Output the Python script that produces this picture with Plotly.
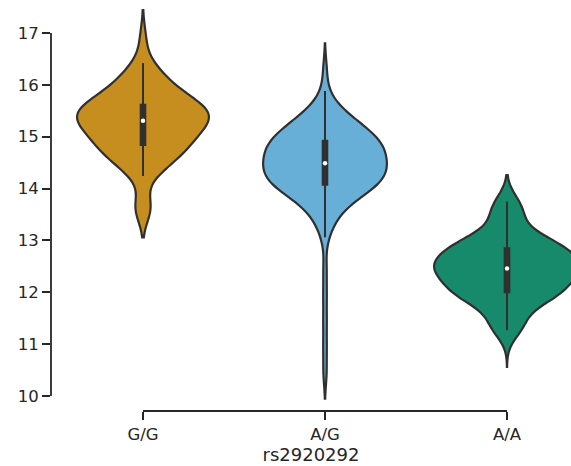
import numpy as np
import plotly.graph_objects as go

# ---------------- data ----------------
categories = ["G/G", "A/G", "A/A"]

gg_values = [
    13.60, 13.62, 13.65,
    14.24, 14.33, 14.41, 14.47, 14.53, 14.58, 14.62, 14.66, 14.70, 14.73, 14.76, 14.79, 14.82,
    14.86, 14.90, 14.93, 14.96, 14.99, 15.02, 15.05, 15.08, 15.11, 15.14, 15.17, 15.20, 15.23,
    15.26, 15.29, 15.30,
    15.32, 15.34, 15.36, 15.38, 15.40, 15.42, 15.44, 15.46, 15.48, 15.50, 15.52, 15.54, 15.56,
    15.57, 15.59, 15.60,
    15.63, 15.67, 15.71, 15.75, 15.79, 15.83, 15.87, 15.92, 15.97, 16.02, 16.08, 16.14, 16.22,
    16.31, 16.42,
    16.90,
]

ag_values = [
    10.45, 10.95, 11.45, 11.95, 12.45,
    13.06, 13.22, 13.34, 13.43, 13.50, 13.56, 13.61, 13.66, 13.70, 13.74, 13.77, 13.80,
    13.83, 13.86, 13.88, 13.90, 13.92, 13.94, 13.96, 13.98, 14.00, 14.02, 14.04, 14.06,
    14.07, 14.08, 14.09, 14.11, 14.12, 14.14, 14.15, 14.16, 14.18, 14.19, 14.21, 14.22, 14.23,
    14.25, 14.26, 14.28, 14.29, 14.30, 14.32, 14.33, 14.35, 14.36, 14.37, 14.39, 14.40,
    14.42, 14.43, 14.44, 14.46, 14.47, 14.48,
    14.50, 14.51, 14.53, 14.54, 14.56, 14.57, 14.59, 14.60, 14.62, 14.63, 14.65, 14.66,
    14.68, 14.69, 14.71, 14.72, 14.74, 14.75, 14.77, 14.78, 14.80, 14.81, 14.83, 14.84,
    14.86, 14.87, 14.88, 14.89, 14.90, 14.91,
    14.93, 14.95, 14.96, 14.98, 15.00, 15.01, 15.03, 15.05, 15.07, 15.09,
    15.11, 15.13, 15.15, 15.17, 15.19, 15.21, 15.23, 15.26, 15.29, 15.31,
    15.34, 15.37, 15.40, 15.44, 15.48, 15.53,
    15.60, 15.70, 15.88,
    16.30,
]

aa_values = [
    11.27, 11.40, 11.62, 11.85, 11.91, 11.95, 11.98, 12.00,
    12.10, 12.18, 12.25, 12.31, 12.36, 12.41, 12.44, 12.48, 12.52, 12.56, 12.61, 12.66,
    12.72, 12.79, 12.85,
    12.90, 12.95, 13.00, 13.06, 13.35, 13.55, 13.75,
]

y_ticks = [10, 11, 12, 13, 14, 15, 16, 17]
x_title = "rs2920292"

# ---------------- styling ----------------
fill_colors = ["#C68D1F", "#68AFD7", "#168A6A"]
violin_widths = [0.725, 0.68, 0.80]
bandwidths = [0.27, 0.25, 0.24]
box_widths = [0.035, 0.037, 0.032]
# density evaluation span: soft (data +/- 2 bandwidths) except where the
# reference outline ends elsewhere
span_settings = [None, None, [10.56, 14.26]]
OUTLINE = "#303030"
TEXT = "#262626"
FONT = "DejaVu Sans"

groups = [gg_values, ag_values, aa_values]

fig = go.Figure()
for cat, vals, col, w, bw, bxw, sp in zip(categories, groups, fill_colors,
                                           violin_widths, bandwidths, box_widths,
                                           span_settings):
    span_kw = dict(spanmode="soft") if sp is None else dict(spanmode="manual", span=sp)
    fig.add_trace(go.Violin(
        x0=cat, y=vals, name=cat,
        fillcolor=col, opacity=1,
        line=dict(color=OUTLINE, width=2.2),
        width=w, scalemode="width", bandwidth=bw,
        points=False,
        box=dict(visible=True, width=bxw, fillcolor=OUTLINE,
                 line=dict(color=OUTLINE, width=2)),
        meanline=dict(visible=False),
        hoverinfo="skip",
        **span_kw,
    ))

medians = [float(np.median(v)) for v in groups]
fig.add_trace(go.Scatter(
    x=categories, y=medians, mode="markers",
    marker=dict(color="white", size=4.5, line=dict(width=0)),
    hoverinfo="skip", showlegend=False,
))

# trimmed spines (seaborn despine(trim=True) look)
fig.add_shape(type="line", xref="paper", yref="y", x0=0, x1=0,
              y0=y_ticks[0], y1=y_ticks[-1], line=dict(color=TEXT, width=1.8))
fig.add_shape(type="line", xref="x", yref="paper", x0=0, x1=len(categories) - 1,
              y0=0, y1=0, line=dict(color=TEXT, width=1.8))

fig.update_layout(
    width=571, height=466,
    margin=dict(l=51, r=0, t=0, b=55),
    paper_bgcolor="white", plot_bgcolor="white",
    showlegend=False, violinmode="overlay",
    font=dict(family=FONT, color=TEXT),
)
fig.update_xaxes(
    type="category", categoryorder="array", categoryarray=categories,
    range=[-0.5055, 2.3516], showgrid=False, zeroline=False, showline=False,
    ticks="outside", ticklen=8, tickwidth=1.8, tickcolor=TEXT,
    tickfont=dict(size=16.5, family=FONT, color=TEXT),
    title=dict(text=x_title, font=dict(size=18, family=FONT, color=TEXT), standoff=2),
    automargin=False,
)
fig.update_yaxes(
    range=[9.711, 17.636], tickvals=y_ticks, ticktext=[str(t) for t in y_ticks],
    showgrid=False, zeroline=False, showline=False,
    ticks="outside", ticklen=8, tickwidth=1.8, tickcolor=TEXT,
    tickfont=dict(size=16.5, family=FONT, color=TEXT),
    automargin=False,
)

fig.write_html("out.html")
